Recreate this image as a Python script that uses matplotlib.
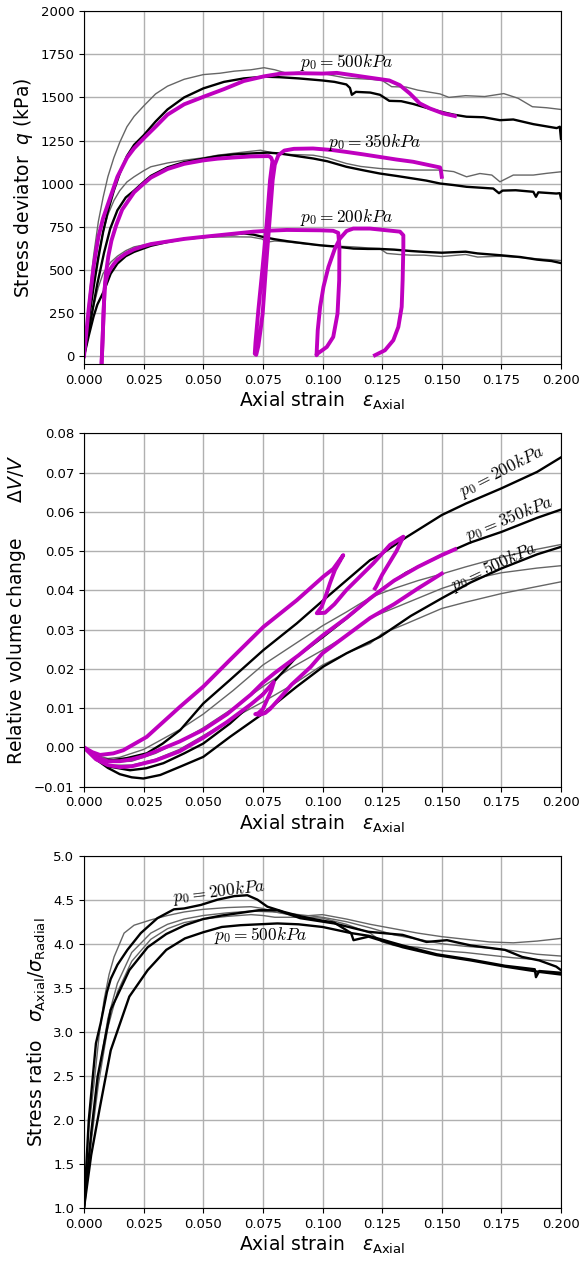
import matplotlib
matplotlib.use("Agg")
from matplotlib import pyplot as plt

# ---------------- panel 1 : stress deviator q (kPa) vs axial strain ----------------
grey_q500_x = [0, 0.002, 0.004, 0.006, 0.008, 0.010, 0.0125, 0.015, 0.018, 0.021, 0.025, 0.03, 0.035, 0.042, 0.05, 0.057, 0.063, 0.07, 0.0755, 0.08, 0.085, 0.09, 0.1, 0.11, 0.12, 0.125, 0.129, 0.135, 0.14, 0.145, 0.1493, 0.153, 0.16, 0.168, 0.176, 0.182, 0.188, 0.194, 0.2]
grey_q500_y = [0, 320, 580, 780, 920, 1040, 1150, 1240, 1330, 1390, 1450, 1520, 1565, 1605, 1632, 1640, 1652, 1660, 1672, 1660, 1640, 1645, 1638, 1612, 1605, 1598, 1562, 1560, 1542, 1530, 1520, 1500, 1510, 1505, 1522, 1495, 1446, 1440, 1430]
black_q500_x = [0, 0.002, 0.004, 0.006, 0.008, 0.010, 0.0125, 0.015, 0.018, 0.021, 0.025, 0.03, 0.035, 0.042, 0.05, 0.0587, 0.067, 0.0755, 0.082, 0.09, 0.1, 0.105, 0.11, 0.1115, 0.1123, 0.114, 0.12, 0.1241, 0.128, 0.133, 0.138, 0.1435, 0.1493, 0.155, 0.1604, 0.1675, 0.1744, 0.18, 0.1884, 0.1982, 0.1995, 0.2]
black_q500_y = [0, 210, 400, 570, 720, 840, 960, 1060, 1160, 1225, 1280, 1360, 1430, 1500, 1552, 1590, 1610, 1620, 1617, 1610, 1598, 1590, 1575, 1555, 1515, 1532, 1528, 1515, 1480, 1478, 1462, 1440, 1418, 1400, 1388, 1385, 1368, 1372, 1345, 1322, 1330, 1260]
mag_q500_x = [0, 0.002, 0.004, 0.006, 0.008, 0.0105, 0.014, 0.018, 0.021, 0.025, 0.03, 0.035, 0.042, 0.05, 0.0587, 0.067, 0.0755, 0.0822, 0.09, 0.1, 0.106, 0.112, 0.117, 0.123, 0.128, 0.1324, 0.1366, 0.1408, 0.145, 0.1506, 0.1555]
mag_q500_y = [0, 280, 520, 690, 800, 900, 1040, 1150, 1205, 1262, 1330, 1400, 1460, 1503, 1548, 1595, 1622, 1637, 1640, 1638, 1642, 1630, 1620, 1608, 1598, 1571, 1523, 1465, 1436, 1407, 1392]

grey_q350_x = [0, 0.002, 0.004, 0.006, 0.008, 0.010, 0.0126, 0.015, 0.018, 0.021, 0.025, 0.028, 0.035, 0.042, 0.05, 0.056, 0.065, 0.074, 0.0822, 0.09, 0.0961, 0.102, 0.11, 0.116, 0.124, 0.131, 0.138, 0.1493, 0.155, 0.1604, 0.166, 0.171, 0.1744, 0.18, 0.1884, 0.194, 0.2]
grey_q350_y = [0, 230, 430, 590, 720, 820, 904, 960, 1010, 1040, 1075, 1098, 1120, 1136, 1150, 1165, 1180, 1194, 1170, 1168, 1165, 1150, 1117, 1100, 1088, 1082, 1079, 1079, 1070, 1040, 1059, 1050, 1011, 1050, 1050, 1060, 1069]
black_q350_x = [0, 0.002, 0.004, 0.0056, 0.0084, 0.011, 0.014, 0.0175, 0.021, 0.025, 0.028, 0.035, 0.042, 0.05, 0.056, 0.063, 0.07, 0.077, 0.0822, 0.0892, 0.0961, 0.102, 0.11, 0.117, 0.124, 0.131, 0.138, 0.1435, 0.1493, 0.155, 0.1604, 0.1716, 0.174, 0.1755, 0.181, 0.1884, 0.1895, 0.1905, 0.198, 0.1995, 0.2]
black_q350_y = [0, 150, 300, 421, 600, 740, 846, 920, 960, 1010, 1045, 1095, 1125, 1145, 1160, 1170, 1175, 1180, 1175, 1160, 1146, 1130, 1098, 1078, 1059, 1045, 1030, 1018, 1001, 992, 982, 972, 945, 960, 962, 953, 924, 950, 943, 945, 915]
mag_q350_x = [0.0074, 0.0078, 0.0082, 0.0086, 0.0092, 0.0102, 0.0115, 0.0135, 0.016, 0.021, 0.025, 0.028, 0.035, 0.042, 0.05, 0.056, 0.063, 0.07, 0.0775, 0.0785, 0.079, 0.078, 0.0766, 0.0749, 0.0731, 0.0719, 0.0716, 0.0722, 0.0731, 0.074, 0.0749, 0.0763, 0.0777, 0.0791, 0.08, 0.0815, 0.084, 0.088, 0.096, 0.104, 0.11, 0.117, 0.124, 0.131, 0.138, 0.1493, 0.1497, 0.15]
mag_q350_y = [-33, 100, 250, 380, 480, 580, 670, 760, 850, 950, 1000, 1035, 1085, 1115, 1135, 1145, 1152, 1158, 1160, 1150, 1130, 1020, 769, 518, 267, 80, 15, 8, 60, 150, 247, 518, 769, 1020, 1110, 1165, 1192, 1202, 1204, 1195, 1184, 1170, 1155, 1140, 1127, 1094, 1070, 1040]

grey_q200_x = [0, 0.002, 0.004, 0.006, 0.008, 0.0112, 0.014, 0.0175, 0.021, 0.028, 0.035, 0.042, 0.05, 0.056, 0.063, 0.07, 0.0745, 0.077, 0.08, 0.0851, 0.092, 0.099, 0.106, 0.113, 0.119, 0.124, 0.127, 0.132, 0.137, 0.1425, 0.15, 0.16, 0.165, 0.175, 0.185, 0.195, 0.2]
grey_q200_y = [0, 150, 290, 400, 480, 545, 580, 612, 634, 653, 668, 682, 688, 691, 692, 691, 680, 662, 668, 663, 652, 643, 638, 634, 628, 624, 596, 590, 586, 586, 578, 590, 575, 580, 570, 560, 555]
black_q200_x = [0, 0.002, 0.004, 0.0056, 0.0084, 0.0112, 0.014, 0.0175, 0.021, 0.028, 0.035, 0.042, 0.05, 0.056, 0.063, 0.067, 0.071, 0.0755, 0.08, 0.0851, 0.092, 0.099, 0.106, 0.113, 0.119, 0.124, 0.13, 0.137, 0.1425, 0.15, 0.16, 0.165, 0.175, 0.183, 0.19, 0.196, 0.2]
black_q200_y = [0, 120, 230, 300, 380, 479, 537, 580, 605, 640, 662, 680, 690, 700, 707, 712, 705, 690, 678, 667, 655, 643, 635, 624, 622, 622, 618, 610, 605, 600, 606, 596, 585, 575, 560, 552, 540]
mag_q200_x = [0.0074, 0.0078, 0.0082, 0.0086, 0.009, 0.0098, 0.011, 0.0125, 0.014, 0.0175, 0.021, 0.025, 0.028, 0.035, 0.042, 0.05, 0.057, 0.064, 0.071, 0.078, 0.085, 0.092, 0.099, 0.1045, 0.1066, 0.1071, 0.107, 0.1063, 0.1045, 0.1018, 0.0976, 0.0975, 0.098, 0.099, 0.1004, 0.1025, 0.1052, 0.1073, 0.1101, 0.1129, 0.1199, 0.1269, 0.1325, 0.1339, 0.1339, 0.1336, 0.1332, 0.1318, 0.1297, 0.1262, 0.122]
mag_q200_y = [-33, 100, 250, 380, 430, 470, 505, 535, 560, 595, 620, 638, 650, 665, 680, 692, 702, 712, 722, 728, 732, 731, 730, 727, 715, 634, 441, 247, 112, 54, 12, 6, 151, 286, 402, 518, 624, 682, 726, 740, 740, 730, 722, 701, 634, 441, 286, 170, 93, 35, 6]

# ---------------- panel 2 : relative volume change vs axial strain ----------------
black_v200_x = [0, 0.004, 0.0085, 0.0123, 0.018, 0.0263, 0.033, 0.0403, 0.05, 0.0612, 0.0752, 0.0892, 0.1003, 0.1101, 0.1199, 0.125, 0.135, 0.15, 0.16, 0.175, 0.19, 0.2]
black_v200_y = [0, -0.0022, -0.0031, -0.0032, -0.0027, -0.0015, 0.0010, 0.0044, 0.0112, 0.0172, 0.0248, 0.0316, 0.0375, 0.0426, 0.0477, 0.0494, 0.0535, 0.0592, 0.0621, 0.0660, 0.0702, 0.0739]
black_v350_x = [0, 0.005, 0.01, 0.0193, 0.026, 0.0333, 0.042, 0.05, 0.0612, 0.0752, 0.0892, 0.1003, 0.1101, 0.1241, 0.135, 0.15, 0.162, 0.175, 0.19, 0.2]
black_v350_y = [0, -0.003, -0.0048, -0.0058, -0.0053, -0.0040, -0.0015, 0.0010, 0.0061, 0.0138, 0.0231, 0.0282, 0.0329, 0.0400, 0.0445, 0.0490, 0.0522, 0.0549, 0.0585, 0.0606]
black_v500_x = [0, 0.005, 0.01, 0.015, 0.02, 0.0249, 0.032, 0.0403, 0.05, 0.0612, 0.0752, 0.0892, 0.1003, 0.1101, 0.1241, 0.137, 0.15, 0.162, 0.175, 0.19, 0.2]
black_v500_y = [0, -0.003, -0.0052, -0.0068, -0.0076, -0.0079, -0.0070, -0.0049, -0.0024, 0.0027, 0.0087, 0.0155, 0.0206, 0.0240, 0.0282, 0.0335, 0.0380, 0.0420, 0.0456, 0.0492, 0.0511]

grey_va_x = [0, 0.005, 0.01, 0.015, 0.025, 0.04, 0.05, 0.0625, 0.075, 0.0875, 0.1, 0.11, 0.12, 0.13, 0.14, 0.15, 0.16, 0.175, 0.19, 0.2]
grey_va_y = [0, -0.002, -0.0028, -0.0025, -0.0005, 0.0045, 0.0085, 0.0145, 0.0210, 0.0260, 0.0310, 0.0345, 0.0382, 0.0405, 0.0425, 0.0442, 0.0460, 0.0485, 0.0505, 0.0517]
grey_vb_x = [0, 0.005, 0.01, 0.02, 0.03, 0.04, 0.05, 0.0625, 0.075, 0.0875, 0.1, 0.11, 0.12, 0.13, 0.14, 0.15, 0.16, 0.175, 0.19, 0.2]
grey_vb_y = [0, -0.0025, -0.0038, -0.0035, -0.0015, 0.0015, 0.0050, 0.0100, 0.0155, 0.0205, 0.0248, 0.0285, 0.0330, 0.0355, 0.0380, 0.0405, 0.0425, 0.0445, 0.0457, 0.0463]
grey_vc_x = [0, 0.005, 0.01, 0.02, 0.03, 0.04, 0.05, 0.0625, 0.075, 0.0875, 0.1, 0.11, 0.12, 0.125, 0.135, 0.15, 0.16, 0.175, 0.19, 0.2]
grey_vc_y = [0, -0.003, -0.0045, -0.0045, -0.003, -0.0005, 0.0030, 0.0075, 0.0116, 0.0160, 0.0210, 0.0240, 0.0265, 0.0290, 0.0315, 0.0354, 0.0370, 0.0392, 0.0410, 0.0422]

mag_v200_x = [0, 0.0035, 0.0067, 0.0123, 0.0165, 0.0263, 0.0403, 0.05, 0.0612, 0.0752, 0.0892, 0.1003, 0.1045, 0.1087, 0.1052, 0.1031, 0.1017, 0.0996, 0.0976, 0.101, 0.105, 0.110, 0.1213, 0.1283, 0.1339, 0.131, 0.128, 0.125, 0.1225, 0.122]
mag_v200_y = [0, -0.0012, -0.0019, -0.0015, -0.0007, 0.0027, 0.0104, 0.0155, 0.0223, 0.0307, 0.0375, 0.0435, 0.0455, 0.0490, 0.0452, 0.0418, 0.0392, 0.0358, 0.0342, 0.0343, 0.0365, 0.0401, 0.0469, 0.0516, 0.0537, 0.0500, 0.0470, 0.0440, 0.0410, 0.0405]
mag_v350_x = [0, 0.005, 0.01, 0.015, 0.02, 0.03, 0.04, 0.05, 0.06, 0.07, 0.075, 0.0796, 0.0785, 0.0765, 0.075, 0.073, 0.0718, 0.0735, 0.076, 0.078, 0.082, 0.087, 0.095, 0.1, 0.11, 0.12, 0.13, 0.14, 0.15]
mag_v350_y = [0, -0.003, -0.0045, -0.005, -0.0048, -0.0033, -0.001, 0.0025, 0.0065, 0.0110, 0.0135, 0.0167, 0.0145, 0.0118, 0.0098, 0.0087, 0.0085, 0.0083, 0.0088, 0.0098, 0.0125, 0.0160, 0.0205, 0.0240, 0.0285, 0.0330, 0.0365, 0.0405, 0.0443]
mag_v500_x = [0, 0.005, 0.01, 0.015, 0.02, 0.025, 0.03, 0.04, 0.05, 0.06, 0.07, 0.075, 0.08, 0.09, 0.1, 0.11, 0.12, 0.13, 0.14, 0.15, 0.1556]
mag_v500_y = [0, -0.0025, -0.0035, -0.0035, -0.003, -0.0022, -0.001, 0.0015, 0.0045, 0.0085, 0.0135, 0.0165, 0.0190, 0.0235, 0.0285, 0.0330, 0.0380, 0.0425, 0.0460, 0.0490, 0.0505]

# ---------------- panel 3 : stress ratio vs axial strain ----------------
black_r200_x = [0, 0.002, 0.005, 0.007, 0.0096, 0.0112, 0.014, 0.0182, 0.0238, 0.0308, 0.0377, 0.042, 0.049, 0.056, 0.063, 0.0685, 0.0727, 0.0769, 0.0839, 0.091, 0.098, 0.1049, 0.112, 0.113, 0.1193, 0.1336, 0.1479, 0.1622, 0.1765, 0.1909, 0.2]
black_r200_y = [1.0, 2.0, 2.87, 3.1, 3.45, 3.6, 3.76, 3.93, 4.12, 4.29, 4.39, 4.40, 4.44, 4.50, 4.54, 4.55, 4.50, 4.42, 4.36, 4.31, 4.27, 4.24, 4.12, 4.04, 4.08, 3.96, 3.87, 3.81, 3.74, 3.68, 3.65]
black_r350_x = [0, 0.003, 0.0057, 0.0112, 0.019, 0.0267, 0.0345, 0.0423, 0.05, 0.0578, 0.0656, 0.0733, 0.0811, 0.0906, 0.1049, 0.1193, 0.1336, 0.1436, 0.1522, 0.1622, 0.1708, 0.1765, 0.1837, 0.1909, 0.198, 0.2]
black_r350_y = [1.0, 1.85, 2.49, 3.25, 3.70, 3.96, 4.11, 4.21, 4.28, 4.32, 4.35, 4.38, 4.38, 4.29, 4.23, 4.135, 4.10, 4.02, 4.04, 3.98, 3.95, 3.93, 3.85, 3.81, 3.74, 3.70]
black_r500_x = [0, 0.003, 0.0065, 0.0112, 0.019, 0.0267, 0.0345, 0.0423, 0.05, 0.0578, 0.0656, 0.0733, 0.0811, 0.09, 0.1, 0.1121, 0.1193, 0.1336, 0.1479, 0.1622, 0.1765, 0.189, 0.1895, 0.1909, 0.2]
black_r500_y = [1.0, 1.6, 2.12, 2.79, 3.40, 3.70, 3.93, 4.06, 4.13, 4.19, 4.21, 4.22, 4.23, 4.22, 4.19, 4.12, 4.09, 3.98, 3.88, 3.82, 3.75, 3.71, 3.62, 3.69, 3.67]

grey_ra_x = [0, 0.002, 0.0042, 0.0063, 0.0084, 0.0105, 0.0126, 0.0168, 0.021, 0.028, 0.035, 0.042, 0.05, 0.06, 0.07, 0.075, 0.08, 0.09, 0.1, 0.11, 0.12, 0.13, 0.14, 0.15, 0.16, 0.17, 0.18, 0.19, 0.2]
grey_ra_y = [1.0, 1.9, 2.41, 2.95, 3.36, 3.65, 3.85, 4.12, 4.21, 4.27, 4.32, 4.36, 4.39, 4.41, 4.42, 4.40, 4.36, 4.31, 4.33, 4.28, 4.22, 4.17, 4.12, 4.08, 4.05, 4.02, 4.01, 4.03, 4.06]
grey_rb_x = [0, 0.003, 0.006, 0.01, 0.014, 0.02, 0.028, 0.035, 0.042, 0.05, 0.06, 0.07, 0.08, 0.09, 0.1, 0.11, 0.12, 0.13, 0.14, 0.15, 0.16, 0.17, 0.18, 0.19, 0.2]
grey_rb_y = [1.0, 1.8, 2.5, 3.15, 3.55, 3.9, 4.12, 4.22, 4.28, 4.32, 4.35, 4.37, 4.36, 4.33, 4.30, 4.25, 4.18, 4.10, 4.05, 4.00, 3.97, 3.95, 3.92, 3.88, 3.86]
grey_rc_x = [0, 0.003, 0.006, 0.01, 0.014, 0.02, 0.028, 0.035, 0.042, 0.05, 0.06, 0.07, 0.075, 0.08, 0.09, 0.1, 0.11, 0.12, 0.125, 0.13, 0.14, 0.15, 0.16, 0.17, 0.18, 0.19, 0.2]
grey_rc_y = [1.0, 1.75, 2.4, 3.05, 3.45, 3.8, 4.05, 4.17, 4.24, 4.28, 4.31, 4.33, 4.32, 4.30, 4.30, 4.29, 4.22, 4.12, 4.02, 3.98, 3.96, 3.92, 3.90, 3.87, 3.84, 3.82, 3.80]

GREY = "0.4"
MAG = "#bf00bf"
xticks = [0, 0.025, 0.05, 0.075, 0.1, 0.125, 0.15, 0.175, 0.2]
xlab = r"Axial strain   $\varepsilon_{\rm Axial}$"
ann = dict(math_fontfamily="cm", fontsize=12.5, ha="center", va="center")

fig = plt.figure(figsize=(5.79, 12.61), dpi=100)
ax1 = fig.add_axes([0.1451, 0.7113, 0.8238, 0.2799])
ax2 = fig.add_axes([0.1451, 0.3761, 0.8238, 0.2802])
ax3 = fig.add_axes([0.1451, 0.0420, 0.8238, 0.2795])

for ax in (ax1, ax2, ax3):
    ax.grid(True, color="#b0b0b0", linewidth=1.0)
    ax.set_axisbelow(True)
    ax.set_xlim(0, 0.2)
    ax.set_xticks(xticks)
    ax.set_xticklabels(["%.3f" % t for t in xticks])
    ax.tick_params(labelsize=9.5)
    ax.set_xlabel(xlab, fontsize=13.5, labelpad=2)

# panel 1
ax1.plot(grey_q500_x, grey_q500_y, color=GREY, lw=1.0)
ax1.plot(grey_q350_x, grey_q350_y, color=GREY, lw=1.0)
ax1.plot(grey_q200_x, grey_q200_y, color=GREY, lw=1.0)
ax1.plot(black_q500_x, black_q500_y, color="k", lw=1.7)
ax1.plot(black_q350_x, black_q350_y, color="k", lw=1.7)
ax1.plot(black_q200_x, black_q200_y, color="k", lw=1.7)
ax1.plot(mag_q500_x, mag_q500_y, color=MAG, lw=2.8)
ax1.plot(mag_q350_x, mag_q350_y, color=MAG, lw=2.8)
ax1.plot(mag_q200_x, mag_q200_y, color=MAG, lw=2.8)
ax1.set_ylim(-45, 2000)
ax1.set_yticks(range(0, 2001, 250))
ax1.set_ylabel(r"Stress deviator  $q$ (kPa)", fontsize=13.5)
ax1.text(0.1099, 1704, r"$p_0 = 500kPa$", **ann)
ax1.text(0.1216, 1240, r"$p_0 = 350kPa$", **ann)
ax1.text(0.1099, 806, r"$p_0 = 200kPa$", **ann)

# panel 2
ax2.plot(grey_va_x, grey_va_y, color=GREY, lw=1.0)
ax2.plot(grey_vb_x, grey_vb_y, color=GREY, lw=1.0)
ax2.plot(grey_vc_x, grey_vc_y, color=GREY, lw=1.0)
ax2.plot(black_v200_x, black_v200_y, color="k", lw=1.7)
ax2.plot(black_v350_x, black_v350_y, color="k", lw=1.7)
ax2.plot(black_v500_x, black_v500_y, color="k", lw=1.7)
ax2.plot(mag_v200_x, mag_v200_y, color=MAG, lw=2.8)
ax2.plot(mag_v350_x, mag_v350_y, color=MAG, lw=2.8)
ax2.plot(mag_v500_x, mag_v500_y, color=MAG, lw=2.8)
ax2.set_ylim(-0.01, 0.08)
ax2.set_ylabel(r"Relative volume change      $\Delta V/V$", fontsize=13.5)
ax2.text(0.1751, 0.0702, r"$p_0 = 200kPa$", rotation=27, **ann)
ax2.text(0.1782, 0.0582, r"$p_0 = 350kPa$", rotation=22, **ann)
ax2.text(0.1716, 0.0460, r"$p_0 = 500kPa$", rotation=25, **ann)

# panel 3
ax3.plot(grey_ra_x, grey_ra_y, color=GREY, lw=1.0)
ax3.plot(grey_rb_x, grey_rb_y, color=GREY, lw=1.0)
ax3.plot(grey_rc_x, grey_rc_y, color=GREY, lw=1.0)
ax3.plot(black_r200_x, black_r200_y, color="k", lw=1.7)
ax3.plot(black_r350_x, black_r350_y, color="k", lw=1.7)
ax3.plot(black_r500_x, black_r500_y, color="k", lw=1.7)
ax3.set_ylim(1.0, 5.0)
ax3.set_ylabel(r"Stress ratio   $\sigma_{\rm Axial}/\sigma_{\rm Radial}$", fontsize=13.5)
ax3.text(0.0566, 4.59, r"$p_0 = 200kPa$", rotation=7, **ann)
ax3.text(0.0738, 4.09, r"$p_0 = 500kPa$", **ann)

fig.savefig("out.png", dpi=100)
